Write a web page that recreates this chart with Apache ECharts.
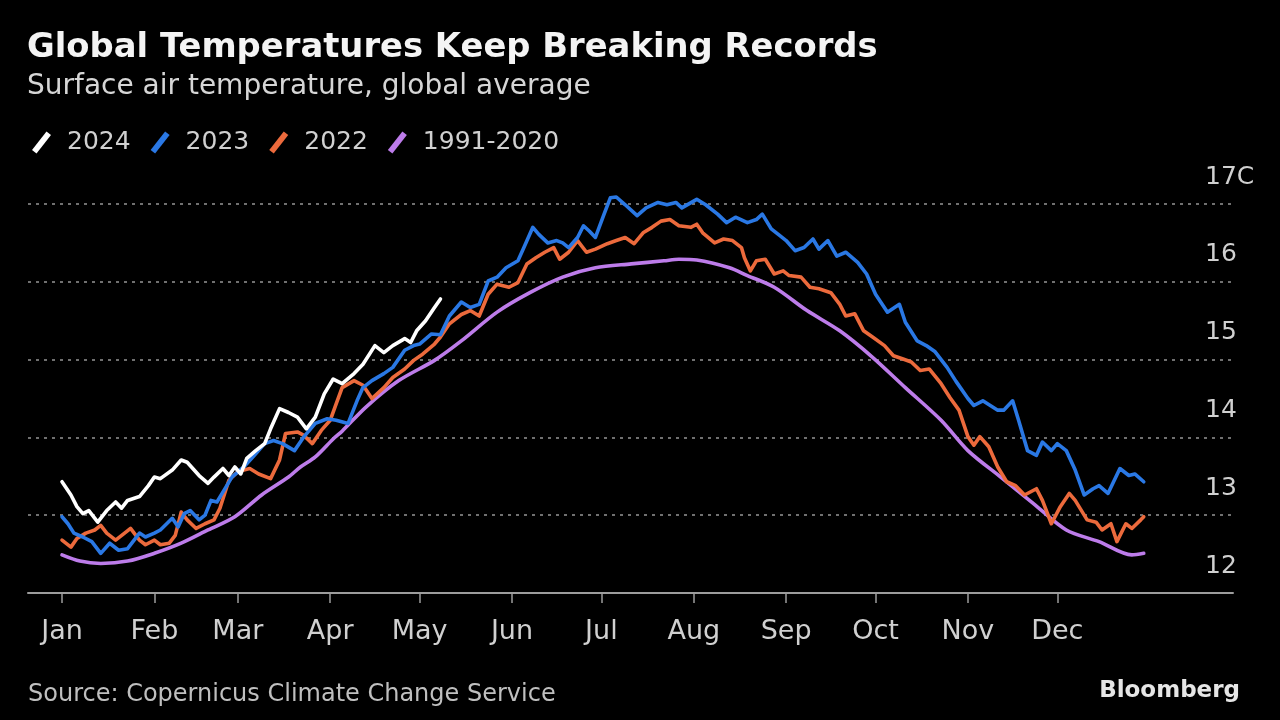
<!DOCTYPE html>
<html>
<head>
<meta charset="utf-8">
<script src="https://cdn.jsdelivr.net/npm/echarts@6/dist/echarts.min.js"></script>
<style>
html,body{margin:0;padding:0;background:#000;}
#chart{width:1280px;height:720px;}
</style>
</head>
<body>
<div id="chart"></div>
<script>
const FONT = '"DejaVu Sans", "Noto Sans", sans-serif';

const monthLabels = ['Jan','Feb','Mar','Apr','May','Jun','Jul','Aug','Sep','Oct','Nov','Dec'];
const monthStartDays = [0,31,59,90,120,151,181,212,243,273,304,334];
const yTicks = [12,13,14,15,16,17];

const days2024 = [0,3,5,7,9,12,15,18,20,22,26,29,31,33,37,40,42,46,49,51,54,56,58,60,62,65,68,70,73,76,79,82,85,88,91,94,98,101,105,108,111,115,117,119,122,125,127];
const temp2024 = [13.43,13.26,13.11,13.02,13.06,12.91,13.06,13.17,13.09,13.19,13.24,13.38,13.49,13.47,13.58,13.71,13.68,13.51,13.41,13.49,13.60,13.51,13.62,13.53,13.73,13.83,13.92,14.11,14.37,14.32,14.26,14.11,14.26,14.56,14.75,14.69,14.82,14.94,15.18,15.09,15.18,15.27,15.22,15.37,15.50,15.67,15.78];

const days2023 = [0,2,4,7,10,13,16,19,22,26,28,31,33,37,39,41,43,46,48,50,52,55,57,61,65,68,71,74,78,81,85,89,92,96,99,101,104,108,111,115,118,120,124,127,130,134,137,140,143,146,149,153,155,158,160,163,166,168,170,173,175,177,179,182,184,186,189,193,196,200,203,206,208,213,216,220,223,226,230,233,235,238,241,243,246,249,252,254,257,260,263,267,270,273,277,281,283,287,290,293,297,300,304,306,309,314,316,319,321,324,327,329,332,334,337,340,343,346,348,351,355,358,360,363];
const temp2023 = [12.98,12.89,12.77,12.72,12.66,12.51,12.64,12.55,12.57,12.77,12.72,12.77,12.81,12.96,12.85,13.02,13.06,12.94,13.0,13.19,13.17,13.36,13.49,13.62,13.79,13.92,13.96,13.92,13.83,14.0,14.18,14.24,14.22,14.18,14.47,14.64,14.73,14.82,14.90,15.12,15.18,15.20,15.33,15.32,15.56,15.74,15.67,15.71,16.01,16.06,16.18,16.27,16.44,16.70,16.61,16.50,16.53,16.50,16.44,16.57,16.72,16.65,16.57,16.88,17.08,17.09,16.99,16.85,16.95,17.02,16.99,17.02,16.95,17.06,16.99,16.87,16.76,16.83,16.76,16.80,16.87,16.68,16.59,16.53,16.40,16.44,16.55,16.42,16.53,16.33,16.38,16.25,16.10,15.84,15.61,15.71,15.48,15.24,15.18,15.10,14.90,14.72,14.50,14.41,14.47,14.35,14.35,14.47,14.22,13.83,13.77,13.94,13.83,13.92,13.83,13.58,13.26,13.34,13.38,13.28,13.60,13.51,13.53,13.43];

const days2022 = [0,3,5,8,11,13,15,18,21,23,26,28,31,33,36,38,40,42,45,48,51,53,56,59,63,66,70,73,75,79,81,84,87,90,92,94,98,101,104,108,111,115,118,121,125,127,130,134,137,140,143,146,150,153,156,159,162,165,167,170,173,176,179,183,186,189,192,195,198,201,204,207,211,213,215,219,222,225,228,229,231,233,236,239,242,244,248,251,254,258,261,263,266,269,272,276,279,282,285,288,291,295,298,301,304,306,308,311,314,317,320,323,327,329,332,335,338,340,344,347,349,352,354,357,359,362,363];
const temp2022 = [12.68,12.59,12.70,12.77,12.81,12.87,12.77,12.68,12.77,12.83,12.68,12.62,12.68,12.62,12.64,12.74,13.04,12.94,12.83,12.89,12.94,13.09,13.45,13.56,13.60,13.53,13.47,13.71,14.05,14.07,14.03,13.92,14.09,14.22,14.43,14.64,14.73,14.67,14.50,14.64,14.77,14.88,14.99,15.07,15.20,15.29,15.46,15.58,15.63,15.56,15.84,15.97,15.93,15.99,16.23,16.31,16.38,16.44,16.29,16.38,16.53,16.38,16.42,16.49,16.53,16.57,16.49,16.63,16.70,16.78,16.80,16.72,16.70,16.74,16.63,16.50,16.55,16.53,16.44,16.31,16.14,16.27,16.29,16.10,16.14,16.08,16.06,15.93,15.91,15.86,15.71,15.56,15.59,15.37,15.29,15.18,15.05,15.01,14.97,14.86,14.88,14.69,14.51,14.35,14.01,13.90,14.01,13.88,13.62,13.43,13.38,13.26,13.34,13.19,12.89,13.11,13.28,13.19,12.94,12.91,12.81,12.89,12.66,12.89,12.83,12.94,12.98];

const daysClim = [0,6,13,22,31,40,49,58,67,76,80,85,91,94,102,113,125,134,146,157,168,179,191,202,207,213,224,230,239,250,261,272,283,295,304,315,326,337,348,359,363];
const tempClim = [12.49,12.41,12.38,12.41,12.51,12.64,12.81,12.98,13.26,13.49,13.62,13.75,13.98,14.08,14.39,14.73,14.99,15.24,15.61,15.86,16.06,16.18,16.23,16.27,16.29,16.28,16.18,16.08,15.93,15.63,15.37,15.03,14.64,14.22,13.83,13.49,13.15,12.81,12.66,12.49,12.51];

const zip = (a, b) => a.map((d, i) => [d, b[i]]);

const COLORS = {
  '2024': '#ffffff',
  '2023': '#2a78e4',
  '2022': '#ec6a3c',
  '1991-2020': '#bd7cea'
};

function lineSeries(name, days, temps, z, smooth) {
  return {
    name: name,
    type: 'line',
    data: zip(days, temps),
    showSymbol: false,
    symbol: 'none',
    clip: false,
    smooth: smooth || false,
    z: z,
    lineStyle: { color: COLORS[name], width: 3.6, cap: 'round', join: 'round' },
    itemStyle: { color: COLORS[name] },
    emphasis: { disabled: true }
  };
}

const chart = echarts.init(document.getElementById('chart'), null, { renderer: 'canvas' });
chart.setOption({
  backgroundColor: '#000000',
  animation: false,
  title: {
    text: 'Global Temperatures Keep Breaking Records',
    subtext: 'Surface air temperature, global average',
    left: 22,
    top: 23,
    itemGap: 3,
    textStyle: { color: '#f4f4f4', fontSize: 33.8, fontWeight: 'bold', fontFamily: FONT, lineHeight: 40 },
    subtextStyle: { color: '#d6d6d6', fontSize: 28, fontFamily: FONT, lineHeight: 32 }
  },
  legend: {
    data: ['2024', '2023', '2022', '1991-2020'],
    left: 27,
    top: 125,
    itemWidth: 19,
    itemHeight: 22,
    itemGap: 20,
    selectedMode: false,
    icon: 'path://M0,18.5 L4.5,22 L19,3.5 L14.5,0 Z',
    itemStyle: { borderWidth: 0 },
    textStyle: { color: '#d0d0d0', fontSize: 25, fontFamily: FONT, padding: [0, 0, 0, 11] }
  },
  grid: { left: 28, right: 47, top: 204, bottom: 127, containLabel: false },
  xAxis: {
    type: 'value',
    min: -11.41,
    max: 392.95,
    axisLine: { show: true, lineStyle: { color: '#9c9c9c', width: 2 } },
    axisTick: { show: true, customValues: monthStartDays, length: 10, lineStyle: { color: '#9c9c9c', width: 1.5 } },
    axisLabel: {
      customValues: monthStartDays,
      formatter: v => monthLabels[monthStartDays.indexOf(Math.round(v))] || '',
      color: '#d0d0d0', fontSize: 27, fontFamily: FONT, margin: 25
    },
    splitLine: { show: false }
  },
  yAxis: {
    type: 'value',
    position: 'right',
    min: yTicks[0],
    max: yTicks[yTicks.length - 1],
    interval: 1,
    axisLine: { show: false },
    axisTick: { show: false },
    splitLine: { show: true, lineStyle: { color: '#707070', width: 2, type: [3, 5] } },
    axisLabel: {
      margin: -28,
      align: 'left',
      verticalAlign: 'bottom',
      padding: [0, 0, 13, 0],
      lineHeight: 28,
      color: '#d0d0d0', fontSize: 25, fontFamily: FONT,
      formatter: v => (v === yTicks[yTicks.length - 1] ? v + 'C' : String(v))
    }
  },
  graphic: [
    { type: 'text', left: 28, top: 683, style: { text: 'Source: Copernicus Climate Change Service', fill: '#bfbfbf', font: '24px ' + FONT } },
    { type: 'text', right: 40, top: 680, style: { text: 'Bloomberg', fill: '#e6e6e6', font: 'bold 23px ' + FONT } }
  ],
  series: [
    lineSeries('1991-2020', daysClim, tempClim, 2, 0.3),
    lineSeries('2022', days2022, temp2022, 3),
    lineSeries('2023', days2023, temp2023, 4),
    lineSeries('2024', days2024, temp2024, 5)
  ]
});
</script>
</body>
</html>
